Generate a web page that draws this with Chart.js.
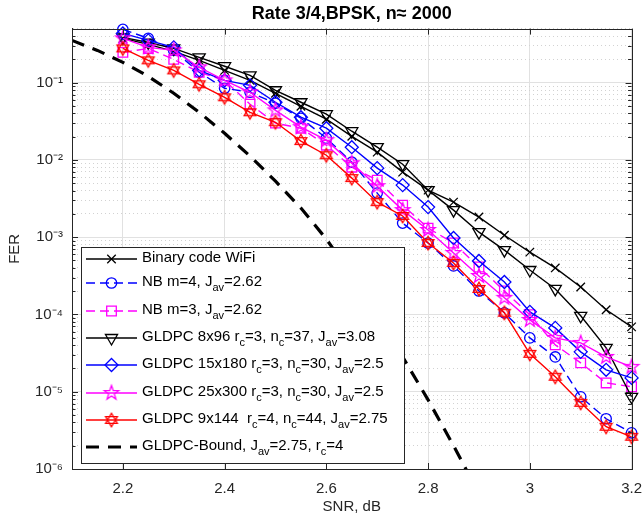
<!DOCTYPE html>
<html>
<head>
<meta charset="utf-8">
<script src="https://cdn.jsdelivr.net/npm/chart.js@4.4.1/dist/chart.umd.min.js"></script>
<style>
  body { margin: 0; background: #fff; }
</style>
</head>
<body>
<canvas id="fer-chart" width="644" height="522"></canvas>
<script>
// SNR grid of the simulated curves
const snr = [2.2, 2.25, 2.3, 2.35, 2.4, 2.45, 2.5, 2.55, 2.6, 2.65, 2.7, 2.75, 2.8, 2.85, 2.9, 2.95, 3.0, 3.05, 3.1, 3.15, 3.2];

const ferWifi    = [0.374, 0.313, 0.254, 0.194, 0.144, 0.107, 0.0728, 0.0494, 0.0336, 0.0202, 0.0126, 0.00694, 0.00406, 0.00284, 0.00182, 0.00106, 6.4e-4, 4.0e-4, 2.27e-4, 1.15e-4, 6.9e-5];
const ferNbM4    = [0.489, 0.374, 0.261, 0.136, 0.0844, 0.075, 0.0541, 0.0346, 0.0191, 0.00933, 0.00372, 0.00152, 8.4e-4, 4.24e-4, 2.01e-4, 1.05e-4, 4.97e-5, 2.82e-5, 8.6e-6, 4.47e-6, 2.94e-6];
const ferNbM3    = [0.246, 0.277, 0.2, 0.136, 0.107, 0.0525, 0.0299, 0.0257, 0.0155, 0.00805, 0.00547, 0.0026, 0.00131, 8.4e-4, 4.11e-4, 2.01e-4, 9.9e-5, 4.04e-5, 2.36e-5, 1.3e-5, 1.16e-5];
const ferG8x96   = [0.385, 0.33, 0.277, 0.212, 0.163, 0.124, 0.0796, 0.0557, 0.039, 0.0235, 0.0146, 0.0088, 0.00406, 0.00224, 0.00116, 6.8e-4, 3.76e-4, 2.14e-4, 9.6e-5, 3.7e-5, 8.6e-6];
const ferG15x180 = [0.433, 0.352, 0.286, 0.144, 0.107, 0.0923, 0.0557, 0.0357, 0.0257, 0.0146, 0.00782, 0.00472, 0.00245, 9.75e-4, 4.92e-4, 2.63e-4, 1.08e-4, 6.7e-5, 3.28e-5, 1.92e-5, 1.51e-5];
const ferG25x300 = [0.374, 0.286, 0.261, 0.158, 0.107, 0.075, 0.0438, 0.0265, 0.018, 0.00906, 0.00457, 0.00224, 0.00124, 6.24e-4, 3.15e-4, 1.64e-4, 8.5e-5, 4.97e-5, 4.28e-5, 2.82e-5, 2.1e-5];
const ferG9x144  = [0.277, 0.194, 0.144, 0.0951, 0.0646, 0.0413, 0.0307, 0.0175, 0.0115, 0.00581, 0.00284, 0.00188, 8.4e-4, 4.63e-4, 2.14e-4, 1.05e-4, 3.09e-5, 1.56e-5, 7.18e-6, 3.52e-6, 2.61e-6];

// bound curve has its own x points
const boundSnr = [2.1, 2.15, 2.2, 2.25, 2.3, 2.35, 2.4, 2.45, 2.5, 2.55, 2.6, 2.65, 2.7, 2.75, 2.8, 2.85, 2.9];
const ferBound = [0.352, 0.261, 0.183, 0.1205, 0.0728, 0.0413, 0.0221, 0.0112, 0.00531, 0.00238, 9.44e-4, 3.24e-4, 1.01e-4, 2.82e-5, 7.85e-6, 2.0e-6, 4.8e-7];

const seriesNames = [
    'Binary code WiFi',
    'NB m=4, J_{av}=2.62',
    'NB m=3, J_{av}=2.62',
    'GLDPC 8x96 r_{c}=3, n_{c}=37, J_{av}=3.08',
    'GLDPC 15x180 r_{c}=3, n_{c}=30, J_{av}=2.5',
    'GLDPC 25x300 r_{c}=3, n_{c}=30, J_{av}=2.5',
    'GLDPC 9x144  r_{c}=4, n_{c}=44, J_{av}=2.75',
    'GLDPC-Bound, J_{av}=2.75, r_{c}=4'
];

const xTicks = [2.2, 2.4, 2.6, 2.8, 3.0, 3.2];
const yExponents = [-6, -5, -4, -3, -2, -1];

const FONT = 'Liberation Sans, Arial, Helvetica, sans-serif';
const TEXT = '#262626';

// open pentagram marker like the matlab one
function starMarker(points, outer, inner, color) {
    const c = document.createElement('canvas');
    c.width = 20; c.height = 20;
    const g = c.getContext('2d');
    g.strokeStyle = color;
    g.lineWidth = 1.3;
    g.beginPath();
    for (let i = 0; i < points * 2; i++) {
        const r = i % 2 ? inner : outer;
        const a = -Math.PI / 2 + i * Math.PI / points;
        g.lineTo(10 + r * Math.cos(a), 10 + r * Math.sin(a));
    }
    g.closePath();
    g.stroke();
    return c;
}
// hexagram drawn as two triangles
function hexMarker(r, color) {
    const c = document.createElement('canvas');
    c.width = 20; c.height = 20;
    const g = c.getContext('2d');
    g.strokeStyle = color;
    g.lineWidth = 1.3;
    [-Math.PI / 2, Math.PI / 2].forEach(start => {
        g.beginPath();
        for (let i = 0; i < 3; i++) {
            const a = start + i * 2 * Math.PI / 3;
            g.lineTo(10 + r * Math.cos(a), 10 + r * Math.sin(a));
        }
        g.closePath();
        g.stroke();
    });
    return c;
}
const pentagram = starMarker(5, 7.5, 3.0, '#ff00ff');
const hexagram = hexMarker(6.8, '#ff0000');

function pts(xs, ys) {
    return xs.map((x, i) => ({x: x, y: ys[i]}));
}

function series(label, ys, color, style, extra) {
    return Object.assign({
        label: label,
        data: pts(snr, ys),
        borderColor: color,
        backgroundColor: color,
        pointBorderColor: color,
        pointBackgroundColor: 'rgba(0,0,0,0)',
        borderWidth: 1.4,
        pointBorderWidth: 1.3,
        pointStyle: style,
        pointRadius: 5,
        tension: 0,
        clip: false
    }, extra || {});
}

const datasets = [
    series(seriesNames[0], ferWifi, '#000000', 'crossRot', {pointRadius: 6}),
    series(seriesNames[1], ferNbM4, '#0000ff', 'circle', {borderDash: [9, 5], pointRadius: 5.2}),
    series(seriesNames[2], ferNbM3, '#ff00ff', 'rect', {borderDash: [9, 5], pointRadius: 6.8}),
    series(seriesNames[3], ferG8x96, '#000000', 'triangle', {pointRadius: 7, pointRotation: 180}),
    series(seriesNames[4], ferG15x180, '#0000ff', 'rectRot', {pointRadius: 6.5}),
    series(seriesNames[5], ferG25x300, '#ff00ff', pentagram),
    series(seriesNames[6], ferG9x144, '#ff0000', hexagram),
    {
        label: seriesNames[7],
        data: pts(boundSnr, ferBound),
        borderColor: '#000000',
        borderWidth: 3.2,
        borderDash: [13, 9],
        pointRadius: 0,
        tension: 0
    }
];
// later series on top, like matlab
datasets.forEach((d, i) => { d.order = datasets.length - i; });

function isMajor(v) {
    const l = Math.log10(v);
    return Math.abs(l - Math.round(l)) < 1e-9;
}
const SUP = {'-': '\u207B', '0': '\u2070', '1': '\u00B9', '2': '\u00B2', '3': '\u00B3', '4': '\u2074', '5': '\u2075', '6': '\u2076', '7': '\u2077', '8': '\u2078', '9': '\u2079'};
function sup(s) { return String(s).split('').map(ch => SUP[ch]).join(''); }

// draw "text_{sub}" with real subscripts
function drawRich(ctx, str, x, y) {
    const parts = str.split(/(_\{[^}]*\})/);
    parts.forEach(p => {
        if (!p) return;
        if (p.startsWith('_{')) {
            const s = p.slice(2, -1);
            ctx.font = '11px ' + FONT;
            ctx.fillText(s, x, y + 6);
            x += ctx.measureText(s).width;
        } else {
            ctx.font = '15px ' + FONT;
            ctx.fillText(p, x, y);
            x += ctx.measureText(p).width;
        }
    });
}

const framePlugin = {
    id: 'frameAndLegend',
    afterDraw(chart) {
        const ctx = chart.ctx;
        const a = chart.chartArea;
        const xs = chart.scales.x, ys = chart.scales.y;
        ctx.save();
        ctx.strokeStyle = TEXT;
        ctx.lineWidth = 1;
        ctx.strokeRect(Math.round(a.left) + 0.5, Math.round(a.top) + 0.5, Math.round(a.right - a.left), Math.round(a.bottom - a.top));

        // inward ticks
        ctx.beginPath();
        ys.ticks.forEach(t => {
            const py = Math.round(ys.getPixelForValue(t.value)) + 0.5;
            const len = isMajor(t.value) ? 6 : 3.5;
            ctx.moveTo(a.left, py); ctx.lineTo(a.left + len, py);
            ctx.moveTo(a.right, py); ctx.lineTo(a.right - len, py);
        });
        xTicks.forEach(v => {
            const px = Math.round(xs.getPixelForValue(v)) + 0.5;
            ctx.moveTo(px, a.bottom); ctx.lineTo(px, a.bottom - 6);
            ctx.moveTo(px, a.top); ctx.lineTo(px, a.top + 6);
        });
        ctx.stroke();

        // legend box
        const box = {x: 81, y: 247, w: 323, h: 216};
        ctx.fillStyle = '#ffffff';
        ctx.fillRect(box.x, box.y, box.w, box.h);
        ctx.strokeStyle = TEXT;
        ctx.strokeRect(box.x + 0.5, box.y + 0.5, box.w, box.h);

        const rowY = [259, 283, 311, 338, 365, 393, 420, 447];
        chart.data.datasets.forEach((d, i) => {
            const y = rowY[i];
            ctx.save();
            ctx.strokeStyle = d.borderColor;
            ctx.lineWidth = d.borderWidth;
            ctx.setLineDash(d.borderDash || []);
            ctx.beginPath();
            ctx.moveTo(86, y); ctx.lineTo(137, y);
            ctx.stroke();
            ctx.setLineDash([]);
            if (d.pointRadius > 0) {
                ctx.fillStyle = 'rgba(0,0,0,0)';
                ctx.lineWidth = d.pointBorderWidth;
                Chart.helpers.drawPoint(ctx, {
                    pointStyle: d.pointStyle,
                    rotation: d.pointRotation || 0,
                    radius: d.pointRadius,
                    borderWidth: d.pointBorderWidth
                }, 111.5, y);
            }
            ctx.restore();
            ctx.fillStyle = '#000';
            ctx.textBaseline = 'middle';
            drawRich(ctx, d.label, 142, y - 1);
        });
        ctx.restore();
    }
};

new Chart(document.getElementById('fer-chart').getContext('2d'), {
    type: 'line',
    data: {datasets: datasets},
    options: {
        responsive: false,
        devicePixelRatio: 1,
        animation: false,
        layout: {padding: {left: 0, right: 0, top: 0, bottom: 0}},
        plugins: {
            legend: {display: false},
            tooltip: {enabled: false},
            title: {
                display: true,
                fullSize: false,
                text: 'Rate 3/4,BPSK, n\u2248 2000',
                color: '#000',
                font: {family: FONT, size: 18, weight: 'bold'},
                padding: {top: 3, bottom: 4}
            }
        },
        scales: {
            x: {
                type: 'linear',
                min: 2.1,
                max: 3.2,
                afterBuildTicks: s => { s.ticks = xTicks.map(v => ({value: v})); },
                afterFit: s => { s.height = 53; },
                ticks: {
                    autoSkip: false,
                    maxRotation: 0,
                    // tall line box pushes the labels down without adding side padding
                    padding: 2,
                    color: TEXT,
                    font: {family: FONT, size: 15, lineHeight: 2.4},
                    callback: v => String(Math.round(v * 10) / 10)
                },
                grid: {color: '#e1e1e1', drawTicks: false},
                border: {color: TEXT},
                title: {
                    display: true,
                    text: 'SNR, dB',
                    color: TEXT,
                    font: {family: FONT, size: 15},
                    padding: {top: 0, bottom: 6}
                }
            },
            y: {
                type: 'logarithmic',
                min: 1e-6,
                max: 0.5,
                afterBuildTicks: s => {
                    const t = [];
                    yExponents.forEach(e => {
                        for (let m = 1; m <= 9; m++) {
                            const v = Number(m + 'e' + e);
                            if (v <= 0.5) t.push({value: v});
                        }
                    });
                    s.ticks = t;
                },
                afterFit: s => { s.width = 72; },
                ticks: {
                    autoSkip: false,
                    padding: 9,
                    color: TEXT,
                    font: {family: FONT, size: 15},
                    callback: v => isMajor(v) ? '10' + sup(Math.round(Math.log10(v))) : ''
                },
                grid: {
                    drawTicks: false,
                    color: c => (c.tick && isMajor(c.tick.value)) ? '#e1e1e1' : '#d2d2d2'
                },
                border: {
                    color: TEXT,
                    dash: c => (c.tick && isMajor(c.tick.value)) ? [] : [1, 3]
                },
                title: {
                    display: true,
                    text: 'FER',
                    color: TEXT,
                    font: {family: FONT, size: 15},
                    padding: {top: 6, bottom: 0}
                }
            }
        }
    },
    plugins: [framePlugin]
});
</script>
</body>
</html>
